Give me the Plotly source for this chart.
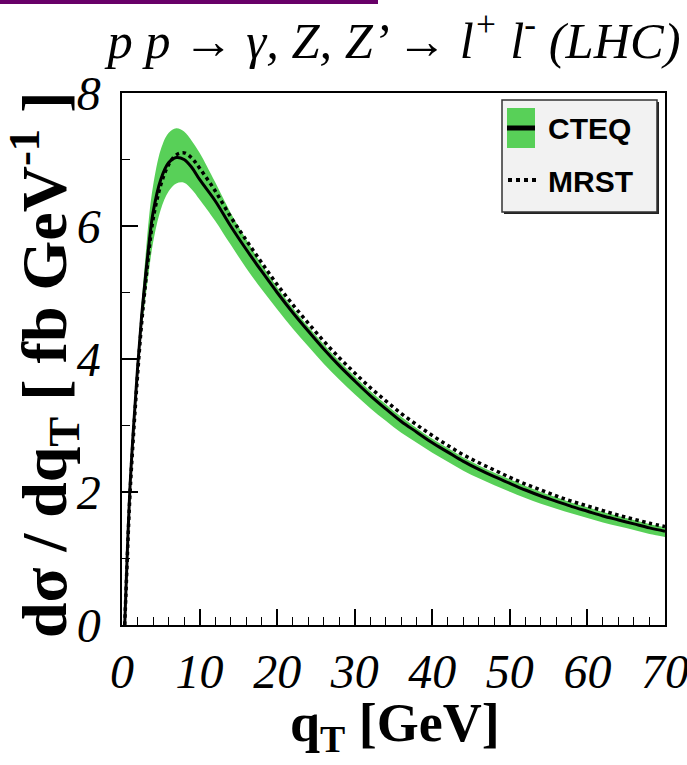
import plotly.graph_objects as go

# ---------------- data ----------------
qT = [0.35, 0.5, 1, 1.5, 2, 2.5, 3, 3.5, 4, 5, 6, 7, 8, 9, 10,
      12, 14, 16, 18, 20, 22, 24, 26, 28, 30, 32, 34, 36, 38, 40,
      42, 44, 46, 48, 50, 52, 54, 56, 58, 60, 62, 64, 66, 68, 70]

cteq = [0, 0.5, 2.0, 3.0, 3.85, 4.6, 5.2, 5.75, 6.2, 6.7, 6.95, 7.03, 7.0, 6.88, 6.7,
        6.38, 6.0, 5.65, 5.32, 5.0, 4.7, 4.42, 4.15, 3.9, 3.67, 3.45, 3.25, 3.06, 2.9, 2.74,
        2.6, 2.46, 2.34, 2.23, 2.13, 2.03, 1.94, 1.86, 1.78, 1.71, 1.64, 1.58, 1.52, 1.46, 1.41]

cteq_up = [0, 0.52, 2.05, 3.1, 4.0, 4.8, 5.5, 6.15, 6.6, 7.15, 7.4, 7.47, 7.42, 7.28, 7.1,
           6.66, 6.2, 5.8, 5.42, 5.08, 4.77, 4.49, 4.22, 3.97, 3.74, 3.52, 3.32, 3.13, 2.96, 2.8,
           2.66, 2.52, 2.4, 2.29, 2.19, 2.09, 2.0, 1.92, 1.84, 1.77, 1.7, 1.64, 1.58, 1.52, 1.47]

cteq_lo = [0, 0.48, 1.95, 2.9, 3.7, 4.4, 4.9, 5.35, 5.75, 6.25, 6.52, 6.64, 6.65, 6.55, 6.4,
           6.08, 5.72, 5.37, 5.05, 4.75, 4.46, 4.19, 3.93, 3.69, 3.47, 3.26, 3.07, 2.89, 2.74, 2.59,
           2.455, 2.32, 2.205, 2.1, 2.005, 1.91, 1.825, 1.75, 1.675, 1.61, 1.54, 1.485, 1.43, 1.37, 1.325]

mrst = [0, 0.45, 1.9, 2.9, 3.75, 4.5, 5.1, 5.65, 6.1, 6.62, 6.92, 7.07, 7.1, 7.02, 6.87,
        6.53, 6.14, 5.79, 5.45, 5.12, 4.82, 4.54, 4.27, 4.02, 3.79, 3.57, 3.37, 3.18, 3.01, 2.85,
        2.7, 2.56, 2.44, 2.33, 2.22, 2.12, 2.03, 1.94, 1.86, 1.79, 1.72, 1.65, 1.59, 1.53, 1.48]

x_ticks = [0, 10, 20, 30, 40, 50, 60, 70]
y_ticks = [0, 2, 4, 6, 8]
legend_names = ["CTEQ", "MRST"]

# ---------------- layout helpers ----------------
W, H = 687, 765
L, R, T, B = 122, 22, 93, 140
PW, PH = W - L - R, H - T - B


def px(x):
    return (x - L) / PW


def py(y):
    return (H - B - y) / PH


GREEN = "#58d058"
SERIF = "Liberation Serif"
SANS = "Liberation Sans"

fig = go.Figure()
fig.add_trace(go.Scatter(x=qT, y=cteq_lo, mode="lines",
                         line=dict(width=0, color=GREEN, shape="spline"),
                         showlegend=False, hoverinfo="skip"))
fig.add_trace(go.Scatter(x=qT, y=cteq_up, mode="lines", fill="tonexty", fillcolor=GREEN,
                         line=dict(width=0, color=GREEN, shape="spline"),
                         showlegend=False, hoverinfo="skip"))
fig.add_trace(go.Scatter(x=qT, y=mrst, mode="lines", name=legend_names[1],
                         line=dict(color="black", width=3.5, dash="dot", shape="spline"),
                         showlegend=False))
fig.add_trace(go.Scatter(x=qT, y=cteq, mode="lines", name=legend_names[0],
                         line=dict(color="black", width=3, shape="spline"),
                         showlegend=False))

axis_common = dict(showgrid=False, zeroline=False, showline=True, linecolor="black",
                   linewidth=1.5, mirror=True, ticks="inside", tickcolor="black",
                   tickwidth=1.5, ticklen=16, automargin=False,
                   tickfont=dict(family=SERIF, size=48, color="black", style="italic"))

fig.update_xaxes(range=[0, 70], tickvals=x_ticks, ticktext=[str(v) for v in x_ticks],
                 ticklabelstandoff=4, ticklabeloverflow="allow",
                 minor=dict(dtick=2, ticks="inside", ticklen=8, tickwidth=1.2,
                            tickcolor="black", showgrid=False),
                 **axis_common)
fig.update_yaxes(range=[0, 8], tickvals=y_ticks, ticktext=[str(v) for v in y_ticks],
                 ticklabelstandoff=10, ticklabeloverflow="allow",
                 minor=dict(dtick=1, ticks="inside", ticklen=8, tickwidth=1.2,
                            tickcolor="black", showgrid=False),
                 **axis_common)

shapes = [
    # purple bar at top
    dict(type="rect", xref="paper", yref="paper", x0=px(0), x1=px(378), y0=py(4), y1=py(0),
         fillcolor="#680068", line=dict(width=0)),
    # legend shadow + box
    dict(type="rect", xref="paper", yref="paper", x0=px(504), x1=px(659), y0=py(214), y1=py(102),
         fillcolor="#222222", line=dict(width=0)),
    dict(type="rect", xref="paper", yref="paper", x0=px(502), x1=px(657), y0=py(212), y1=py(100),
         fillcolor="#f2f2f2", line=dict(color="#333333", width=1.5)),
    # CTEQ symbol
    dict(type="rect", xref="paper", yref="paper", x0=px(507), x1=px(535), y0=py(148), y1=py(108),
         fillcolor=GREEN, line=dict(width=0)),
    dict(type="line", xref="paper", yref="paper", x0=px(507), x1=px(535), y0=py(128), y1=py(128),
         line=dict(color="black", width=5)),
    # MRST symbol
    dict(type="line", xref="paper", yref="paper", x0=px(508), x1=px(536), y0=py(180), y1=py(180),
         line=dict(color="black", width=4, dash="dot")),
]

annotations = [
    dict(text="<b>" + legend_names[0] + "</b>", xref="paper", yref="paper", x=px(546), y=py(128),
         xanchor="left", yanchor="middle", showarrow=False,
         font=dict(family=SANS, size=30, color="black")),
    dict(text="<b>" + legend_names[1] + "</b>", xref="paper", yref="paper", x=px(546), y=py(181),
         xanchor="left", yanchor="middle", showarrow=False,
         font=dict(family=SANS, size=30, color="black")),
    dict(text="<b>dσ / dq<sub>T</sub> [ fb GeV<sup>-1</sup> ]</b>", xref="paper", yref="paper",
         x=px(44), y=py(365), xanchor="center", yanchor="middle", textangle=-90, showarrow=False,
         font=dict(family=SERIF, size=64, color="black")),
    dict(text="<b>q<sub>T</sub> [GeV]</b>", xref="paper", yref="paper",
         x=px(395), y=py(726), xanchor="center", yanchor="middle", showarrow=False,
         font=dict(family=SERIF, size=54, color="black")),
]

fig.update_layout(
    width=W, height=H,
    margin=dict(l=L, r=R, t=T, b=B, autoexpand=False),
    paper_bgcolor="white", plot_bgcolor="white",
    showlegend=False,
    title=dict(text="<i>p p → γ, Z, Z’ → l<sup>+</sup> l<sup>-</sup> (LHC)</i>",
               xref="container", yref="container", x=394 / W, y=1 - 40 / H,
               xanchor="center", yanchor="middle",
               font=dict(family=SERIF, size=50.5, color="black")),
    shapes=shapes,
    annotations=annotations,
)

fig.write_html("out.html")
